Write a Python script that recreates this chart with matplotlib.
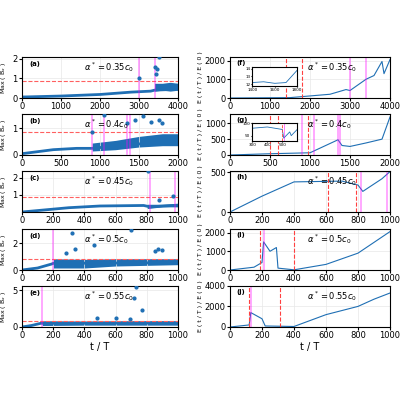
import matplotlib
matplotlib.use("Agg")
import matplotlib.pyplot as plt
import numpy as np

blue = "#1f6fb4"
labels_left = ["(a)", "(b)", "(c)", "(d)", "(e)"]
labels_right = ["(f)", "(g)", "(h)", "(i)", "(j)"]
alphas = [r"$\alpha^*=0.35c_0$", r"$\alpha^*=0.4c_0$", r"$\alpha^*=0.45c_0$", r"$\alpha^*=0.5c_0$", r"$\alpha^*=0.55c_0$"]
xmax = [4000, 2000, 1000, 1000, 1000]
ylim_left = [2.1, 1.55, 2.4, 3.1, 5.6]
yticks_left = [[0, 1, 2], [0, 1], [1, 2], [0, 2], [0, 5]]
ylim_right = [2200, 1300, 520, 2200, 4000]
yticks_right = [[0, 1000, 2000], [0, 500, 1000], [0, 500], [0, 1000, 2000], [0, 2000, 4000]]
threshold = 0.85

lt = [[0, 1000, 2000, 2800, 3300, 3400, 4000],
      [0, 400, 700, 900, 1400, 2000],
      [0, 300, 500, 780, 820, 1000],
      [0, 100, 190, 200, 1000],
      [0, 60, 120, 130, 1000]]
ly = [[0.05, 0.1, 0.18, 0.3, 0.35, 0.4, 0.45],
      [0.05, 0.2, 0.25, 0.25, 0.4, 0.5],
      [0.0, 0.25, 0.35, 0.38, 0.3, 0.4],
      [0.0, 0.15, 0.45, 0.5, 0.55],
      [0.0, 0.2, 0.5, 0.5, 0.55]]
band_t = [[3400, 3600, 3800, 4000], [900, 1200, 1500, 1800, 2000],
          [800, 900, 1000], [200, 400, 600, 800, 1000], [130, 400, 700, 1000]]
band_lo = [[0.35, 0.4, 0.35, 0.4], [0.15, 0.2, 0.3, 0.35, 0.35],
           [0.2, 0.3, 0.3], [0.15, 0.15, 0.3, 0.35, 0.4], [0.2, 0.25, 0.25, 0.25]]
band_hi = [[0.75, 0.75, 0.8, 0.75], [0.45, 0.55, 0.7, 0.8, 0.8],
           [0.45, 0.45, 0.5], [0.85, 0.8, 0.85, 0.85, 0.85], [0.85, 0.8, 0.85, 0.85]]
out_t = [[3000, 3400, 3450, 3500, 3430], [900, 1050, 1350, 1450, 1550, 1650, 1750, 1800],
         [810, 970, 880], [320, 460, 700, 340, 280, 870, 900, 850],
         [730, 720, 770, 480, 600, 690]]
out_y = [[1.0, 1.6, 1.5, 2.1, 1.2], [0.85, 1.5, 1.2, 1.3, 1.45, 1.25, 1.3, 1.2],
         [2.4, 0.95, 0.7], [2.8, 1.9, 3.0, 1.6, 1.3, 1.6, 1.5, 1.4],
         [5.5, 3.9, 2.3, 1.2, 1.2, 1.1]]
mag_left = [[3000, 3400], [900, 1050, 1350, 1380], [820, 980], [200], [125]]

rt = [[0, 1500, 2500, 2900, 3000, 3400, 3600, 3800, 3850, 4000],
      [0, 500, 1000, 1350, 1400, 1500, 1700, 1900, 2000],
      [0, 200, 400, 700, 800, 830, 950, 1000],
      [0, 150, 200, 210, 250, 290, 300, 400, 600, 800, 1000],
      [0, 120, 130, 200, 220, 400, 600, 800, 900, 1000]]
ry = [[0, 20, 200, 450, 400, 1000, 1200, 1950, 1300, 2050],
      [0, 40, 70, 480, 300, 270, 380, 500, 1200],
      [0, 200, 380, 390, 340, 260, 420, 510],
      [0, 150, 400, 1500, 1000, 1200, 100, 10, 300, 900, 2050],
      [0, 200, 1400, 800, 100, 50, 1200, 2000, 2700, 3300]]
red_right = [[1400, 1800], [500, 600, 980], [610, 790], [190, 400], [120, 310]]
mag_right = [[3000, 3400], [900, 1050, 1350, 1380], [820, 980], [210], [130]]

inset_f_t = [1400, 1500, 1600, 1700, 1800]
inset_f_y = [12.2, 12.3, 12.1, 12.2, 13.8]
inset_g_t = [300, 400, 500, 510, 550, 560, 600]
inset_g_y = [80, 85, 75, 40, 65, 50, 75]

fig = plt.figure(figsize=(4, 4), dpi=100)
bottoms = [0.755, 0.6125, 0.47, 0.325, 0.1825]
for i in range(5):
    ax = fig.add_axes([0.055, bottoms[i], 0.39, 0.103])
    ax.plot(lt[i], ly[i], color=blue, lw=2)
    ax.fill_between(band_t[i], band_lo[i], band_hi[i], color=blue, lw=0)
    ax.scatter(out_t[i], out_y[i], s=4, color=blue, zorder=3)
    ax.axhline(threshold, color="#ff6060", ls="--", lw=0.8)
    for m in mag_left[i]:
        ax.axvline(m, color="magenta", lw=1.2, alpha=0.4)
    ax.set_xlim(0, xmax[i]); ax.set_ylim(0, ylim_left[i]); ax.set_yticks(yticks_left[i])
    ax.set_ylabel(r"Max ( B$_x$ )", fontsize=4.5)
    ax.yaxis.set_label_coords(-0.09, 0.5)
    ax.text(0.05, 0.9, labels_left[i], transform=ax.transAxes, fontsize=5, fontweight="bold", va="top")
    ax.text(0.4, 0.92, alphas[i], transform=ax.transAxes, fontsize=6, va="top", family="serif")
    ax.grid(color="#e8e8e8", lw=0.5)
    ax.tick_params(labelsize=6, length=2, pad=1)

    ax2 = fig.add_axes([0.575, bottoms[i], 0.40, 0.103])
    ax2.plot(rt[i], ry[i], color=blue, lw=0.8)
    for r in red_right[i]:
        ax2.axvline(r, color="#ff4040", ls="--", lw=0.8)
    for m in mag_right[i]:
        ax2.axvline(m, color="magenta", lw=1.2, alpha=0.4)
    ax2.set_xlim(0, xmax[i]); ax2.set_ylim(0, ylim_right[i]); ax2.set_yticks(yticks_right[i])
    ax2.set_ylabel("E ( t / T ) / E ( 0 )", fontsize=4.5)
    ax2.yaxis.set_label_coords(-0.17, 0.5)
    ax2.text(0.04, 0.93, labels_right[i], transform=ax2.transAxes, fontsize=5, fontweight="bold", va="top")
    ax2.text(0.48, 0.92, alphas[i], transform=ax2.transAxes, fontsize=6, va="top", family="serif")
    ax2.grid(color="#e8e8e8", lw=0.5)
    ax2.tick_params(labelsize=6, length=2, pad=1)
    if i == 4:
        ax.set_xlabel("t / T", fontsize=7, labelpad=1)
        ax2.set_xlabel("t / T", fontsize=7, labelpad=1)
    if i == 0:
        ins = ax2.inset_axes([0.14, 0.3, 0.28, 0.45])
        ins.plot(inset_f_t, inset_f_y, color=blue, lw=0.6)
        for r in red_right[0]:
            ins.axvline(r, color="#ff4040", ls="--", lw=0.6)
        ins.set_xlim(1400, 1800); ins.set_ylim(11.8, 14.2)
        ins.set_xticks([1400, 1600, 1800]); ins.set_yticks([12, 13, 14])
        ins.tick_params(labelsize=3, length=1, pad=0.5)
    if i == 1:
        ins = ax2.inset_axes([0.14, 0.35, 0.28, 0.42])
        ins.plot(inset_g_t, inset_g_y, color=blue, lw=0.6)
        for r in red_right[1]:
            ins.axvline(r, color="#ff4040", ls="--", lw=0.6)
        ins.axvline(510, color="magenta", lw=0.6, alpha=0.6)
        ins.set_xlim(300, 600); ins.set_ylim(30, 100)
        ins.set_xticks([300, 400, 500]); ins.set_yticks([50, 100])
        ins.tick_params(labelsize=3, length=1, pad=0.5)

fig.savefig("out.png", dpi=100)
